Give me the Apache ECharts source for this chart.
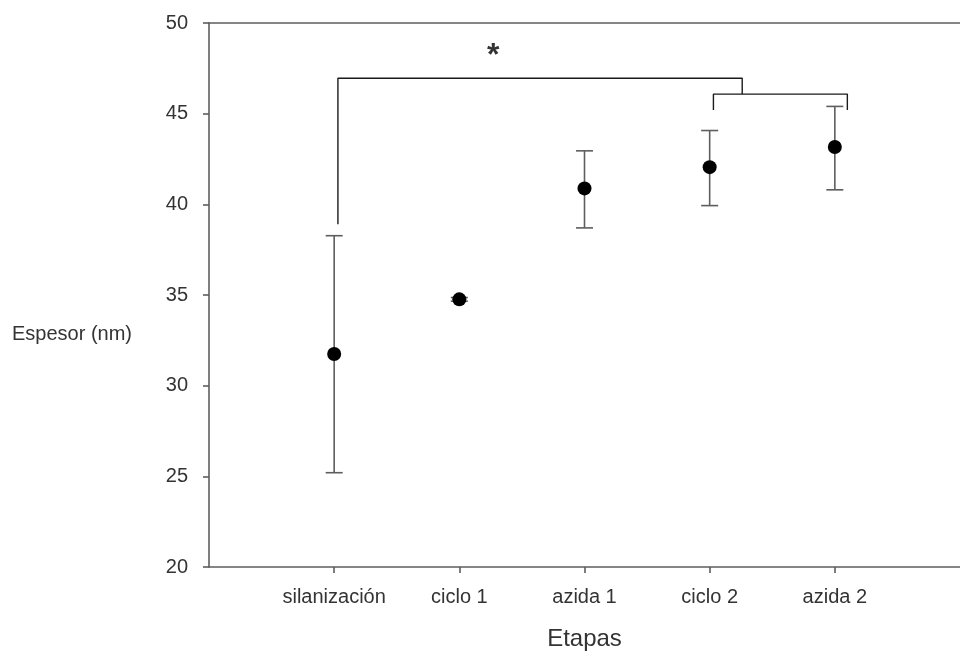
<!DOCTYPE html>
<html>
<head>
<meta charset="utf-8">
<script src="https://cdn.jsdelivr.net/npm/echarts@6/dist/echarts.min.js"></script>
<style>html,body{margin:0;padding:0;background:#fff}#c{width:960px;height:658px}</style>
</head>
<body>
<div id="c"></div>
<script>
const categories = ['silanización', 'ciclo 1', 'azida 1', 'ciclo 2', 'azida 2'];
const positions = [1, 2, 3, 4, 5];
const means = [31.75, 34.76, 40.88, 42.05, 43.16];
const lowers = [25.2, 34.66, 38.7, 39.93, 40.8];
const uppers = [38.27, 34.86, 42.95, 44.07, 45.4];
const yTicks = [20, 25, 30, 35, 40, 45, 50];
// significance bracket annotations (data coordinates)
const bracketBig = [[1.03, 38.9], [1.03, 46.95], [4.26, 46.95], [4.26, 46.08]];
const bracketSmall = [[4.03, 45.2], [4.03, 46.08], [5.1, 46.08], [5.1, 45.2]];
const starPos = [2.27, 48.15];

const axisColor = '#5e5e5e';
const textColor = '#333';
const font = 'Liberation Sans, Arial, sans-serif';

const chart = echarts.init(document.getElementById('c'), null, {renderer: 'canvas'});
chart.setOption({
  animation: false,
  backgroundColor: '#fff',
  grid: {left: 209, right: -7, top: 23, bottom: 91, containLabel: false},
  xAxis: [{
    type: 'value', min: 0, max: 6, interval: 1,
    position: 'bottom',
    splitLine: {show: false},
    axisLine: {show: true, onZero: false, lineStyle: {color: axisColor, width: 1.6}},
    axisTick: {show: true, customValues: positions, length: 6, lineStyle: {color: axisColor, width: 1.6}},
    axisLabel: {customValues: positions, formatter: v => categories[Math.round(v) - 1] || '', margin: 20,
      color: textColor, fontSize: 20, fontFamily: font},
    name: 'Etapas', nameLocation: 'middle', nameGap: 60,
    nameTextStyle: {fontSize: 24, color: textColor, fontFamily: font}
  }, {
    type: 'value', min: 0, max: 6, position: 'top',
    splitLine: {show: false},
    axisLine: {show: true, lineStyle: {color: axisColor, width: 1.6}},
    axisTick: {show: false}, axisLabel: {show: false}
  }],
  yAxis: {
    type: 'value', min: yTicks[0], max: yTicks[yTicks.length - 1], interval: 5,
    splitLine: {show: false},
    axisLine: {show: true, onZero: false, lineStyle: {color: axisColor, width: 1.6}},
    axisTick: {show: true, length: 6, lineStyle: {color: axisColor, width: 1.6}},
    axisLabel: {margin: 21, color: textColor, fontSize: 20, fontFamily: font}
  },
  graphic: [{
    type: 'text', left: 12, top: 324,
    style: {text: 'Espesor (nm)', fill: textColor, font: '20px ' + font}
  }],
  series: [{
    type: 'custom',
    renderItem: function (params, api) {
      const x = api.value(0);
      const lo = api.coord([x, api.value(1)]);
      const hi = api.coord([x, api.value(2)]);
      const hw = 8.5;
      const st = {stroke: axisColor, lineWidth: 1.6};
      return {type: 'group', children: [
        {type: 'line', shape: {x1: lo[0], y1: lo[1], x2: hi[0], y2: hi[1]}, style: st},
        {type: 'line', shape: {x1: lo[0] - hw, y1: lo[1], x2: lo[0] + hw, y2: lo[1]}, style: st},
        {type: 'line', shape: {x1: hi[0] - hw, y1: hi[1], x2: hi[0] + hw, y2: hi[1]}, style: st}
      ]};
    },
    data: positions.map((p, i) => [p, lowers[i], uppers[i]]),
    z: 2
  }, {
    type: 'scatter', symbol: 'circle', symbolSize: 14,
    itemStyle: {color: '#000', opacity: 1},
    data: positions.map((p, i) => [p, means[i]]),
    z: 3
  }, {
    type: 'line', data: bracketBig, symbol: 'none',
    lineStyle: {color: '#1a1a1a', width: 1.4}, z: 4
  }, {
    type: 'line', data: bracketSmall, symbol: 'none',
    lineStyle: {color: '#1a1a1a', width: 1.4}, z: 4
  }, {
    type: 'scatter', data: [starPos], symbolSize: 0,
    label: {show: true, position: 'inside', formatter: '*', fontSize: 32, fontWeight: 'bold', color: '#000', fontFamily: font},
    z: 5
  }]
});
</script>
</body>
</html>
